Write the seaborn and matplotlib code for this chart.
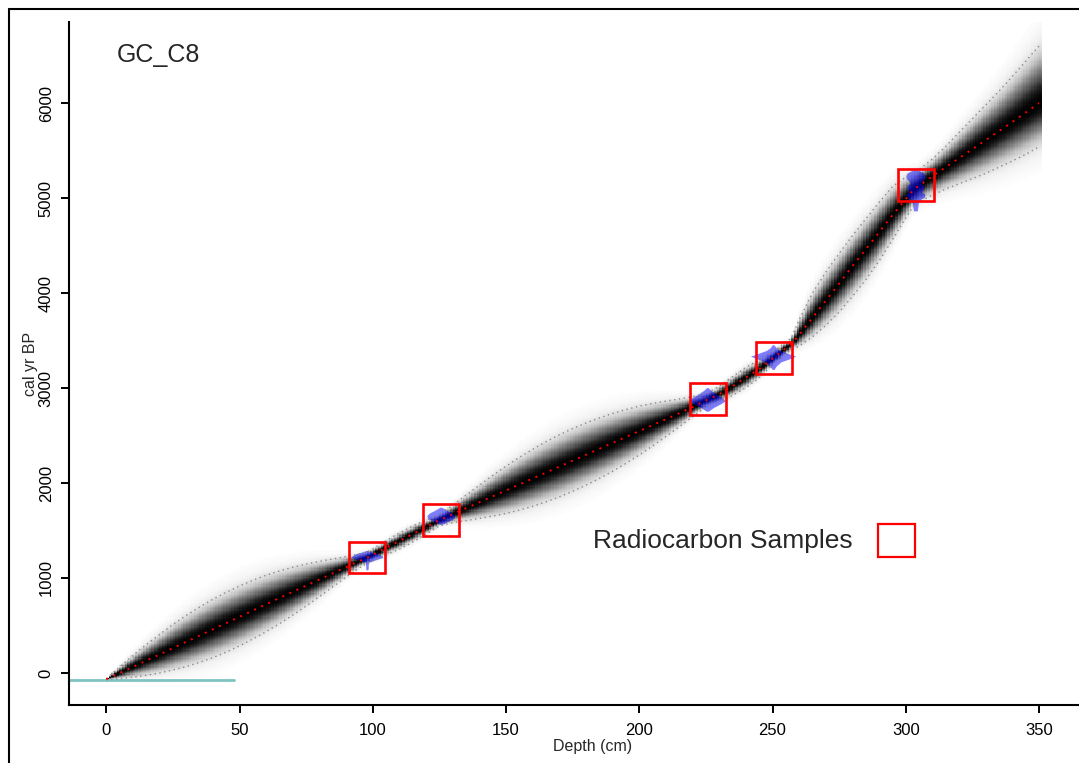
import numpy as np
import pandas as pd
import matplotlib
matplotlib.use("Agg")
import matplotlib.pyplot as plt
from matplotlib.patches import Rectangle, Polygon
from matplotlib.lines import Line2D
import seaborn as sns

# ---------------- age-depth model summary (depth in cm, age in cal yr BP) ----------------
model_depth = [0, 5, 10, 15, 20, 25, 30, 35, 40, 45, 50, 55, 60, 65, 70, 75, 80, 85, 90, 95,
               98, 100, 105, 110, 115, 120, 125, 130, 135, 140, 145, 150, 155, 160, 165, 170,
               175, 180, 185, 190, 195, 200, 205, 210, 215, 220, 225, 230, 235, 240, 245, 250,
               255, 257, 260, 265, 270, 275, 280, 285, 290, 295, 300, 303, 305, 310, 315, 320,
               325, 330, 335, 340, 345, 350]
model_mean = [-66, 0, 65, 130, 195, 262, 328, 394, 460, 526, 592, 658, 724, 790, 855, 920,
              985, 1050, 1115, 1180, 1216, 1245, 1318, 1390, 1463, 1535, 1608, 1672, 1735,
              1797, 1860, 1922, 1985, 2047, 2110, 2172, 2235, 2297, 2360, 2422, 2485, 2547,
              2610, 2672, 2735, 2800, 2870, 2935, 3020, 3110, 3200, 3310, 3420, 3460, 3560,
              3740, 3920, 4100, 4285, 4460, 4640, 4820, 4990, 5090, 5130, 5230, 5325, 5420,
              5515, 5610, 5705, 5800, 5900, 6000]
# distance from the mean to the lower / upper 95% bound
model_minus = [5, 60, 110, 155, 195, 230, 260, 282, 298, 306, 306, 300, 288, 270, 245, 215,
               180, 142, 105, 72, 60, 62, 75, 85, 85, 75, 60, 90, 130, 170, 208, 242, 270,
               292, 308, 318, 322, 320, 312, 298, 278, 252, 220, 183, 143, 103, 72, 80, 98,
               105, 92, 68, 62, 60, 120, 200, 260, 300, 320, 320, 300, 260, 200, 170, 170,
               200, 230, 270, 310, 350, 380, 410, 440, 460]
model_plus = [5, 65, 120, 168, 210, 248, 278, 300, 316, 324, 324, 318, 305, 285, 258, 226,
              190, 150, 110, 75, 60, 62, 75, 85, 85, 75, 60, 95, 138, 180, 220, 255, 285,
              308, 325, 335, 338, 335, 325, 310, 288, 262, 228, 190, 150, 108, 74, 82, 100,
              108, 95, 70, 64, 62, 160, 260, 300, 315, 320, 320, 315, 300, 230, 180, 170,
              180, 220, 270, 320, 370, 420, 480, 540, 600]

# ---------------- radiocarbon dates: calibrated age distributions ----------------
date_depth = [98.0, 125.7, 225.7, 250.4, 303.8]
date_box_age = [1216, 1611, 2884, 3316, 5137]
date_halfwidth = [6.0, 5.3, 6.8, 8.5, 3.6]
date1_age = [1080, 1100, 1130, 1160, 1190, 1210, 1230, 1250, 1270, 1285]
date1_dens = [0.05, 0.08, 0.08, 0.1, 0.6, 1.0, 0.9, 0.7, 0.3, 0.0]
date2_age = [1560, 1590, 1620, 1650, 1680, 1710, 1740]
date2_dens = [0.1, 0.5, 0.9, 1.0, 0.8, 0.4, 0.05]
date3_age = [2750, 2790, 2830, 2860, 2890, 2930, 2970, 3000]
date3_dens = [0.05, 0.35, 0.75, 1.0, 0.85, 0.5, 0.2, 0.03]
date4_age = [3190, 3230, 3270, 3300, 3330, 3360, 3390, 3420, 3450]
date4_dens = [0.04, 0.15, 0.35, 0.7, 1.0, 0.65, 0.3, 0.12, 0.04]
date5_age = [4860, 4900, 4940, 4980, 5000, 5030, 5060, 5090, 5120, 5150, 5170, 5200, 5230,
             5260, 5290]
date5_dens = [0.2, 0.25, 0.3, 0.5, 0.9, 1.0, 0.7, 0.85, 0.9, 0.55, 0.65, 0.95, 1.0, 0.85, 0.25]
date_ages = [date1_age, date2_age, date3_age, date4_age, date5_age]
date_dens = [date1_dens, date2_dens, date3_dens, date4_dens, date5_dens]

surface_age = -70
surface_line_end = 48

x_ticks = [0, 50, 100, 150, 200, 250, 300, 350]
y_ticks = [0, 1000, 2000, 3000, 4000, 5000, 6000]
core_name = "GC_C8"
legend_label = "Radiocarbon Samples"

# ---------------- figure ----------------
sns.set_theme(style="white")
plt.rcParams["font.family"] = ["Liberation Sans", "DejaVu Sans"]

fig = plt.figure(figsize=(10.79, 7.63), dpi=100)
ax = fig.add_axes([69 / 1079, 1 - 705 / 763, 1 - 69 / 1079, (705 - 22) / 763])

model = pd.DataFrame({"depth": model_depth, "mean": model_mean,
                      "lower": np.array(model_mean) - np.array(model_minus),
                      "upper": np.array(model_mean) + np.array(model_plus)})

# grey density raster of the age model, normalised per depth column
d_edges = np.arange(0, 352, 1.0)
d_cent = d_edges[:-1] + 0.5
a_edges = np.arange(-400, 7010, 12.0)
a_cent = a_edges[:-1] + 6
m = np.interp(d_cent, model["depth"], model["mean"])
s_lo = np.maximum(np.interp(d_cent, model["depth"], model_minus) / 1.8, 6)
s_hi = np.maximum(np.interp(d_cent, model["depth"], model_plus) / 1.8, 6)
A = a_cent[:, None]
S = np.where(A < m[None, :], s_lo[None, :], s_hi[None, :])
Z = np.exp(-0.5 * ((A - m[None, :]) / S) ** 2)
Z[Z < 0.015] = 0
ax.imshow(Z, extent=[d_edges[0], d_edges[-1], a_edges[0], a_edges[-1]], origin="lower",
          cmap="Greys", vmin=0, vmax=1, aspect="auto", interpolation="nearest", zorder=1)

# calibrated date distributions
for dep, ages, dens, hw in zip(date_depth, date_ages, date_dens, date_halfwidth):
    ages = np.array(ages, float)
    dens = np.array(dens, float)
    xs = np.concatenate([dep - dens * hw, (dep + dens * hw)[::-1]])
    ys = np.concatenate([ages, ages[::-1]])
    ax.add_patch(Polygon(np.column_stack([xs, ys]), closed=True, facecolor=(0, 0, 1, 0.5),
                         edgecolor="none", zorder=3))

# 95% range and mean
sns.lineplot(data=model, x="depth", y="lower", ax=ax, color="#8a8a8a", lw=1.0,
             linestyle=(0, (1, 2.5)), zorder=4)
sns.lineplot(data=model, x="depth", y="upper", ax=ax, color="#8a8a8a", lw=1.0,
             linestyle=(0, (1, 2.5)), zorder=4)
sns.lineplot(data=model, x="depth", y="mean", ax=ax, color="red", lw=1.4,
             linestyle=(0, (1, 3)), zorder=5)

# surface line
ax.plot([-14, surface_line_end], [surface_age, surface_age], color="#7fc3c3", lw=2, zorder=2)

# sample boxes
box_w, box_h = 13.5, 330
for dep, age in zip(date_depth, date_box_age):
    ax.add_patch(Rectangle((dep - box_w / 2, age - box_h / 2), box_w, box_h, fill=False,
                           edgecolor="#ff0000", lw=1.9, zorder=6))

ax.set_xlim(-14, 365)
ax.set_ylim(-337, 6853)
ax.set_xticks(x_ticks)
ax.set_yticks(y_ticks)
ax.set_xticklabels([str(v) for v in x_ticks], fontsize=12)
ax.set_yticklabels([str(v) for v in y_ticks], fontsize=12, rotation=90, va="center")

for side in ["top", "right"]:
    ax.spines[side].set_visible(False)
for side in ["left", "bottom"]:
    ax.spines[side].set_linewidth(1.5)
    ax.spines[side].set_color("black")
ax.tick_params(axis="both", direction="out", length=6, width=1.4, color="black",
               bottom=True, left=True, labelcolor="black")
ax.tick_params(axis="x", pad=7)
ax.tick_params(axis="y", pad=5)

ax.set_xlabel("Depth (cm)", fontsize=11.5)
ax.set_ylabel("cal yr BP", fontsize=11.5)
ax.xaxis.set_label_coords(0.518, -0.05)
ax.yaxis.set_label_coords(-0.031, 0.499)

ax.text(0.0475, 0.9517, core_name, transform=ax.transAxes, fontsize=18, va="center", ha="left")
ax.text(0.519, 0.240, legend_label, transform=ax.transAxes, fontsize=19, va="center", ha="left")
ax.add_patch(Rectangle((0.801, 0.2167), 0.0366, 0.0483, transform=ax.transAxes, fill=False,
                       edgecolor="#ff0000", lw=1.6, zorder=6))
if ax.get_legend():
    ax.get_legend().remove()

# outer frame
fig.add_artist(Line2D([9 / 1079, 9 / 1079], [0, 1 - 9 / 763], transform=fig.transFigure,
                      color="black", lw=1.5))
fig.add_artist(Line2D([9 / 1079, 1], [1 - 9 / 763, 1 - 9 / 763], transform=fig.transFigure,
                      color="black", lw=1.5))

fig.savefig("out.png", dpi=100)
